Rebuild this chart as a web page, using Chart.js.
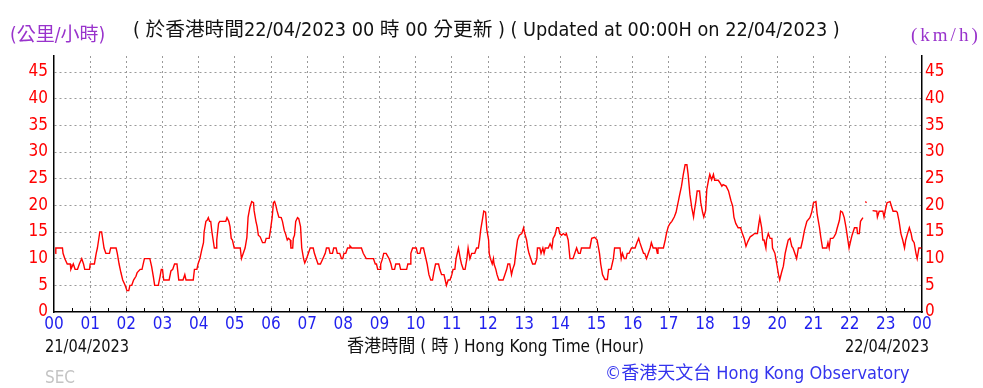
<!DOCTYPE html>
<html>
<head>
<meta charset="utf-8">
<title>Wind speed</title>
<script src="https://cdn.jsdelivr.net/npm/chart.js@4/dist/chart.umd.min.js"></script>
<style>
    body { margin: 0; background: #fff; }
    #wrap {
        position: relative; width: 983px; height: 388px; overflow: hidden;
        font-family: "Liberation Sans Narrow", "DejaVu Sans Condensed", "Noto Sans CJK TC", sans-serif;
    }
    #wind-chart { position: absolute; left: 0; top: 0; }
    .lbl { position: absolute; white-space: nowrap; font-size: 18px; line-height: 18px; transform-origin: left center; }
    .unit { color: #9933cc; font-size: 19px; line-height: 19px; }
</style>
</head>
<body>
<div id="wrap">
    <canvas id="wind-chart" width="983" height="388"></canvas>
    <div class="lbl unit" style="left:10px; top:25px;">(公里/小時)</div>
    <div class="lbl" style="left:133px; top:20px; color:#111; font-size:19.7px; line-height:20px;">( 於香港時間22/04/2023 00 時 00 分更新 ) ( Updated at 00:00H on 22/04/2023 )</div>
    <div class="lbl unit" style="left:911px; top:25px; font-family:'Liberation Serif',serif; letter-spacing:3px;">(km/h)</div>
    <div class="lbl" style="left:45px; top:337px; color:#111; transform:scaleX(0.9);">21/04/2023</div>
    <div class="lbl" style="left:347px; top:337px; color:#111; transform:scaleX(0.95);">香港時間 ( 時 ) Hong Kong Time (Hour)</div>
    <div class="lbl" style="left:845px; top:337px; color:#111; transform:scaleX(0.9);">22/04/2023</div>
    <div class="lbl" style="left:45px; top:368px; color:#c4c4c4; font-size:17px;">SEC</div>
    <div class="lbl" style="left:605px; top:364px; color:#3333ee;">©香港天文台 Hong Kong Observatory</div>
</div>
<script>
// minutes after 00:00 on 21/04/2023, and wind speed (km/h)
const timeMinutes = [
    2, 3, 14, 15, 18, 22, 27, 28, 32, 35, 39, 42, 46, 49, 51, 59, 60, 67, 70, 72,
    74, 76, 79, 81, 83, 86, 92, 94, 103, 105, 108, 111, 114, 118, 121, 124, 126, 129, 132, 136,
    138, 143, 146, 150, 159, 162, 165, 167, 173, 176, 178, 180, 182, 191, 194, 197, 200, 204, 205, 207,
    214, 217, 219, 231, 233, 237, 239, 242, 245, 248, 249, 252, 254, 256, 258, 260, 262, 264, 266, 269,
    270, 273, 275, 285, 287, 290, 292, 294, 296, 299, 309, 311, 314, 317, 320, 322, 325, 328, 331, 332,
    335, 337, 339, 342, 346, 350, 352, 357, 359, 362, 364, 366, 368, 370, 373, 377, 379, 382, 384, 387,
    389, 392, 393, 396, 397, 399, 401, 404, 406, 409, 411, 414, 416, 419, 422, 425, 430, 432, 435, 438,
    442, 446, 450, 452, 456, 458, 462, 464, 468, 470, 474, 477, 479, 481, 484, 487, 490, 491, 494, 510,
    513, 518, 530, 533, 535, 537, 541, 542, 545, 547, 551, 554, 556, 559, 561, 565, 567, 573, 575, 585,
    587, 591, 592, 595, 601, 603, 607, 609, 613, 615, 617, 619, 622, 625, 628, 630, 633, 638, 640, 643,
    647, 649, 651, 654, 657, 660, 662, 665, 667, 669, 671, 674, 676, 679, 682, 685, 687, 690, 693, 698,
    701, 704, 706, 708, 711, 713, 716, 718, 721, 722, 724, 727, 729, 730, 733, 735, 738, 745, 748, 751,
    753, 756, 759, 761, 764, 766, 769, 772, 776, 779, 781, 784, 786, 788, 791, 794, 798, 801, 802, 806,
    808, 811, 813, 815, 820, 823, 826, 828, 831, 834, 837, 839, 842, 845, 848, 850, 853, 856, 861, 864,
    867, 870, 873, 875, 889, 892, 897, 901, 905, 907, 910, 914, 918, 920, 924, 926, 928, 930, 939, 941,
    943, 946, 949, 951, 954, 958, 964, 967, 970, 972, 975, 978, 980, 983, 986, 989, 991, 994, 999, 1001,
    1002, 1011, 1014, 1016, 1019, 1022, 1025, 1029, 1032, 1034, 1036, 1038, 1041, 1044, 1047, 1050, 1052, 1055, 1058, 1061,
    1062, 1065, 1067, 1071, 1073, 1076, 1078, 1081, 1083, 1086, 1088, 1091, 1094, 1096, 1102, 1105, 1108, 1110, 1115, 1119,
    1123, 1126, 1128, 1131, 1135, 1139, 1142, 1145, 1148, 1151, 1155, 1159, 1162, 1167, 1169, 1171, 1174, 1176, 1178, 1181,
    1182, 1185, 1188, 1191, 1192, 1196, 1199, 1202, 1204, 1207, 1210, 1213, 1215, 1218, 1221, 1224, 1226, 1229, 1232, 1235,
    1239, 1242, 1245, 1249, 1254, 1257, 1260, 1264, 1266, 1270, 1272, 1275, 1282, 1284, 1286, 1288, 1292, 1294, 1297, 1299,
    1303, 1305, 1308, 1311, 1314, 1317, 1319, 1322, 1324, 1328, 1332, 1333, 1336, 1338, 1342, 1344, 1346, 1348, 1352, 1358,
    1365, 1366, 1369, 1375, 1377, 1379, 1382, 1387, 1390, 1392, 1397, 1399, 1402, 1405, 1408, 1411, 1413, 1416, 1419, 1422,
    1424, 1427, 1430, 1432, 1435, 1439
];
const windSpeed = [
    11, 12, 12, 11, 10, 9, 9, 8, 9, 8, 8, 9, 10, 9, 8, 8, 9, 9, 11, 12,
    13.5, 15, 15, 13.5, 12, 11, 11, 12, 12, 11, 9, 7.4, 6, 5, 4, 4, 5, 5, 6, 6.7,
    7.4, 8, 8, 10, 10, 8.5, 6.5, 5, 5, 6.7, 8, 8, 6, 6, 7.7, 8, 9, 9, 8, 6,
    6, 7, 6, 6, 8, 8, 9, 10, 11.6, 13, 15, 17, 17.2, 17.7, 17, 17, 15, 13.5, 12, 12,
    13.5, 16.6, 17, 17, 17.7, 17, 16, 13.8, 13.5, 12, 12, 10, 11, 12, 14, 17.8, 19.6, 20.7, 20.5, 19,
    17, 16, 14.4, 14.1, 13, 13, 13.8, 13.8, 15.3, 17.8, 20.5, 20.7, 20, 19, 17.8, 17.7, 17, 15.3, 14.7, 13.5,
    13.8, 13.5, 12, 12, 13.8, 14.4, 17, 17.7, 17.5, 16, 12, 10, 9.2, 10, 11, 12, 12, 11, 10, 9,
    9, 10, 11, 12, 12, 11, 11, 12, 12, 11, 11, 10, 10, 11, 11, 12, 12, 12.4, 12, 12,
    11, 10, 10, 9, 9, 8, 8, 9, 10, 11, 11, 10.4, 10, 9, 8, 8, 9, 9, 8, 8,
    9, 9, 11, 12, 12, 11, 11, 12, 12, 11, 10, 9, 7, 6, 6, 7.4, 9, 9, 8, 7,
    7, 6, 5, 6, 6, 7, 8, 8, 10, 11, 12, 10, 9, 8, 8, 10, 12, 10, 11, 11,
    12, 12, 13.5, 15.5, 17.5, 18.9, 18.7, 15.5, 13.5, 11, 10, 9, 10, 9, 8, 7, 6, 6, 7, 8,
    9, 9, 7, 8, 9, 11, 13.5, 14.4, 14.7, 15.8, 14.7, 13.5, 12, 11, 10, 9, 9, 10, 12, 12,
    11, 12, 11, 12, 12, 12.8, 12, 13.8, 14.4, 15.8, 15.8, 14.7, 14.4, 14.7, 14.4, 14.7, 13.5, 10, 10, 11,
    12, 11, 11, 12, 12, 13.8, 14, 13.5, 11, 9, 7, 6.1, 6.1, 8, 8, 9, 10, 12, 12, 10,
    11, 10, 10, 11, 11, 12, 12, 13, 13.8, 13, 12, 11, 11, 10, 11, 12, 13, 12, 12, 11,
    12, 12, 13.5, 14.7, 16, 16.6, 17, 17.8, 18.7, 19.8, 20.9, 22, 23.6, 25.8, 27.6, 27.6, 25.8, 22, 19.6, 17.8,
    18.7, 20.9, 22.7, 22.7, 20.5, 18.7, 17.8, 19, 23, 24.8, 25.8, 24.8, 25.8, 24.7, 24.7, 24.2, 23.6, 23.9, 23.6, 22.7,
    20.9, 19.8, 17.8, 16.6, 15.8, 15.8, 14.7, 13.8, 12.3, 13.2, 14.1, 14.4, 14.7, 14.7, 16.3, 17.7, 15.8, 13.5, 13.5, 12,
    13.5, 14.7, 13.8, 13.8, 12, 11, 9, 7, 6, 7.4, 8.6, 11, 12, 13.5, 13.8, 12.3, 12, 11, 10, 12,
    12, 13.5, 15.3, 17, 17.7, 18.7, 20.5, 20.7, 18.4, 15.8, 14.1, 12, 12, 13, 12, 13.8, 13.8, 14.1, 14.7, 15.6,
    17.2, 18.9, 18.7, 17.7, 15.8, 13.5, 12, 13.5, 14.4, 15.8, 15.8, 14.7, 14.7, 17, 17.7, null, 20.7, 20.5, null, 19,
    18.9, 17.8, 18.9, 18.9, 17.8, 19, 20.5, 20.7, 19.6, 18.9, 18.9, 18.7, 17, 14.7, 13.5, 12, 13.5, 14.7, 15.8, 14.7,
    13.5, 13, 11, 10, 12, 12
];
const hourTicks = [0, 60, 120, 180, 240, 300, 360, 420, 480, 540, 600, 660, 720,
    780, 840, 900, 960, 1020, 1080, 1140, 1200, 1260, 1320, 1380, 1440];
const hourLabels = ['00', '01', '02', '03', '04', '05', '06', '07', '08', '09', '10', '11', '12',
    '13', '14', '15', '16', '17', '18', '19', '20', '21', '22', '23', '00'];
const speedTicks = [0, 5, 10, 15, 20, 25, 30, 35, 40, 45];

const tickFont = { family: '"Liberation Sans Narrow", "DejaVu Sans Condensed", sans-serif', size: 17 };
const gridGrey = '#9a9a9a';

// short marks on the time axis every half hour
const halfHourMarks = {
    id: 'halfHourMarks',
    afterDraw(chart) {
        const { ctx, chartArea, scales } = chart;
        ctx.save();
        ctx.strokeStyle = '#000';
        ctx.lineWidth = 1;
        for (let m = 30; m < 1440; m += 30) {
            const px = Math.round(scales.x.getPixelForValue(m)) + 0.5;
            ctx.beginPath();
            ctx.moveTo(px, chartArea.bottom);
            ctx.lineTo(px, chartArea.bottom - 4);
            ctx.stroke();
        }
        ctx.restore();
    }
};

const points = timeMinutes.map((t, i) => ({ x: t, y: windSpeed[i] }));

const ctx = document.getElementById('wind-chart').getContext('2d');
new Chart(ctx, {
    type: 'line',
    data: {
        datasets: [{
            label: 'Wind speed',
            data: points,
            borderColor: '#ff0000',
            borderWidth: 1.4,
            pointRadius: 0,
            tension: 0,
            spanGaps: false
        }]
    },
    options: {
        responsive: false,
        animation: false,
        layout: { padding: { top: 56 } },
        plugins: {
            legend: { display: false },
            tooltip: { enabled: false }
        },
        scales: {
            x: {
                type: 'linear',
                min: 0,
                max: 1440,
                afterBuildTicks: axis => { axis.ticks = hourTicks.map(v => ({ value: v })); },
                afterFit: axis => { axis.height = 76; },
                ticks: {
                    autoSkip: false,
                    maxRotation: 0,
                    padding: 2,
                    color: '#1f1fee',
                    font: tickFont,
                    callback: (value, index) => hourLabels[index]
                },
                grid: {
                    drawTicks: false,
                    color: c => (c.tick && (c.tick.value === 0 || c.tick.value === 1440)) ? 'rgba(0,0,0,0)' : gridGrey
                },
                border: { color: '#000', width: 1.5, dash: [2, 3] }
            },
            y: {
                position: 'left',
                min: 0,
                max: 48,
                afterBuildTicks: axis => { axis.ticks = speedTicks.map(v => ({ value: v })); },
                afterFit: axis => { axis.width = 54; },
                ticks: { padding: 6, color: '#ff0000', font: tickFont },
                grid: {
                    drawTicks: false,
                    color: c => (c.tick && c.tick.value === 0) ? 'rgba(0,0,0,0)' : gridGrey
                },
                border: { color: '#000', width: 1.5, dash: [2, 3] }
            },
            y2: {
                position: 'right',
                min: 0,
                max: 48,
                afterBuildTicks: axis => { axis.ticks = speedTicks.map(v => ({ value: v })); },
                afterFit: axis => { axis.width = 61; },
                ticks: { padding: 3, color: '#ff0000', font: tickFont },
                grid: { drawTicks: false, drawOnChartArea: false },
                border: { color: '#000', width: 1.5 }
            }
        }
    },
    plugins: [halfHourMarks]
});
</script>
</body>
</html>
